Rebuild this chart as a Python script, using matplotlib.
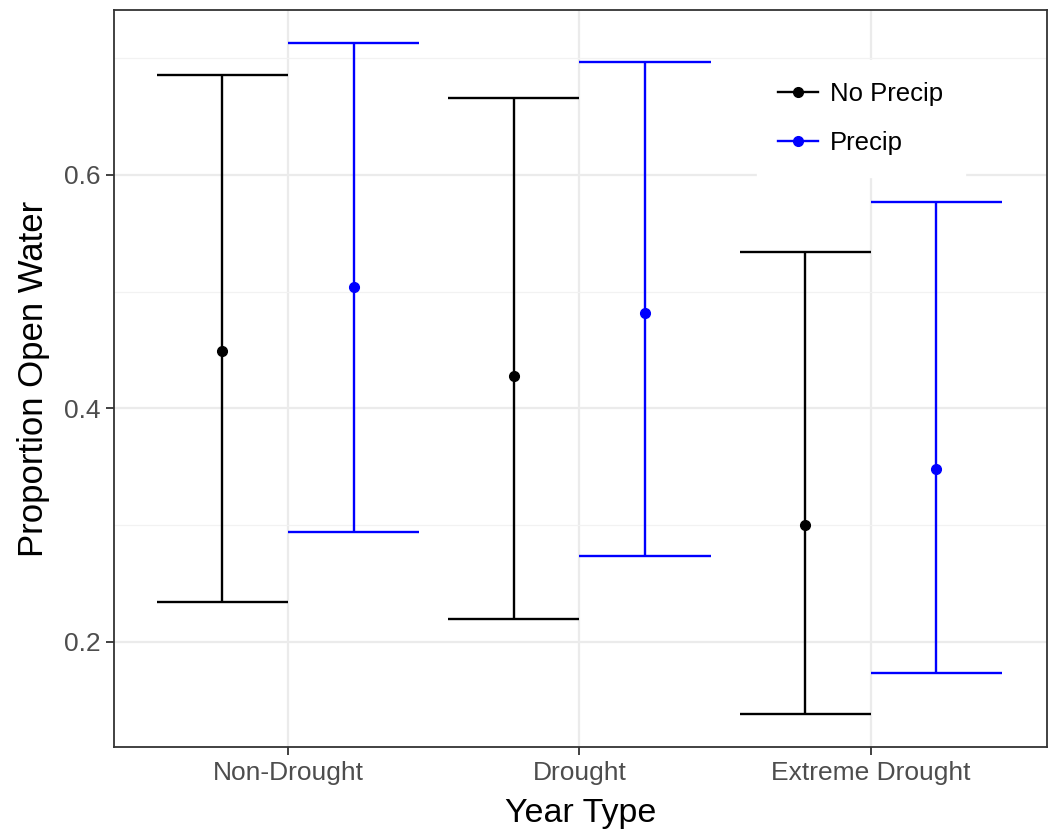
import numpy as np
import matplotlib
matplotlib.use("Agg")
import matplotlib.pyplot as plt
from matplotlib.lines import Line2D
from matplotlib.ticker import MultipleLocator

plt.rcParams['font.family'] = ['Liberation Sans', 'DejaVu Sans']

# data
year_types = ["Non-Drought", "Drought", "Extreme Drought"]
groups = ["No Precip", "Precip"]
colors = ["black", "#0000FF"]

mean_no = [0.449, 0.428, 0.300]
low_no = [0.234, 0.220, 0.138]
high_no = [0.686, 0.666, 0.534]

mean_pr = [0.504, 0.482, 0.348]
low_pr = [0.294, 0.274, 0.173]
high_pr = [0.713, 0.697, 0.577]

means = [mean_no, mean_pr]
lows = [low_no, low_pr]
highs = [high_no, high_pr]

fig = plt.figure(figsize=(10.52, 8.31), dpi=100)
ax = fig.add_axes([0.1084, 0.1011, 0.8868, 0.8869])

x = np.arange(1, len(year_types) + 1)
dodge = 0.225
half = 0.225

for i, g in enumerate(groups):
    xs = x + (i - 0.5) * 2 * dodge
    ax.vlines(xs, lows[i], highs[i], color=colors[i], lw=1.7, zorder=3)
    ax.hlines(lows[i], xs - half, xs + half, color=colors[i], lw=1.7, zorder=3)
    ax.hlines(highs[i], xs - half, xs + half, color=colors[i], lw=1.7, zorder=3)
    ax.plot(xs, means[i], 'o', color=colors[i], ms=7, zorder=4)

ax.set_xlim(0.403, 3.604)
ax.set_ylim(0.110, 0.7413)
ax.set_xticks(x)
ax.set_xticklabels(year_types)
ax.yaxis.set_major_locator(MultipleLocator(0.2))
ax.yaxis.set_minor_locator(MultipleLocator(0.1))
ax.yaxis.set_major_formatter(plt.FuncFormatter(lambda v, p: f"{v:.1f}"))

ax.grid(which='major', color='#EBEBEB', lw=1.6, zorder=0)
ax.grid(which='minor', axis='y', color='#F2F2F2', lw=0.9, zorder=0)
ax.set_axisbelow(True)
for s in ax.spines.values():
    s.set_color('#333333')
    s.set_linewidth(1.3)

ax.tick_params(which='major', direction='out', length=5.8, width=1.3, color='#333333',
               labelcolor='#4D4D4D', labelsize=19, pad=4)
ax.tick_params(which='minor', length=0)

ax.set_xlabel("Year Type", fontsize=24.5, labelpad=10)
ax.set_ylabel("Proportion Open Water", fontsize=25, labelpad=10)

handles = [Line2D([0], [0], color=c, lw=1.7, marker='o', ms=7) for c in colors]
leg = ax.legend(handles, groups, loc='upper left', bbox_to_anchor=(0.675, 0.950),
                frameon=True, fontsize=18.5, handlelength=1.55, handletextpad=0.45,
                labelspacing=1.0, borderpad=0.85, fancybox=False)
leg.get_frame().set_edgecolor('white')
leg.get_frame().set_facecolor('white')
leg.get_frame().set_alpha(1)

fig.savefig("out.png", dpi=100)
